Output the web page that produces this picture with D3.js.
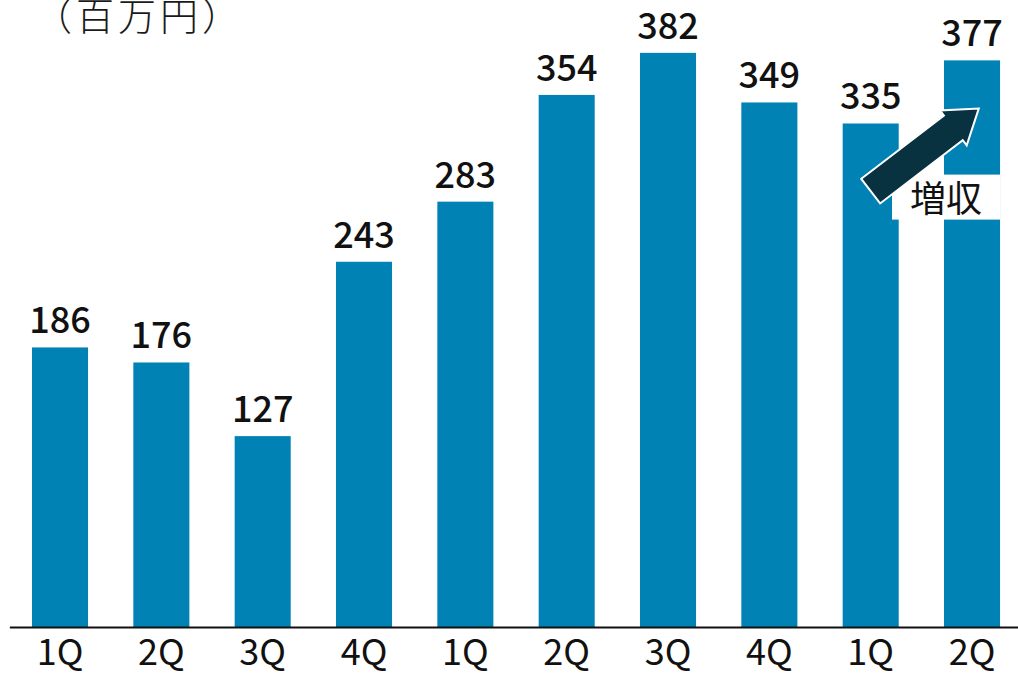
<!DOCTYPE html>
<html>
<head>
<meta charset="utf-8">
<script src="https://cdn.jsdelivr.net/npm/d3@7"></script>
<style>
  html, body { margin: 0; padding: 0; background: #fff; }
  svg { display: block; }
</style>
</head>
<body>
<svg id="svg"></svg>
<script>
const quarters = ["1Q", "2Q", "3Q", "4Q", "1Q", "2Q", "3Q", "4Q", "1Q", "2Q"]
const sales = [186, 176, 127, 243, 283, 354, 382, 349, 335, 377]
const unitLabel = "（百万円）"
const noteLabel = "増収"

const width = 1018
const height = 678
const baseY = 627

const svg = d3.select("#svg").attr("width", width).attr("height", height)
const font = "'Noto Sans CJK JP', 'Noto Sans', sans-serif"

const x = d3.scaleBand()
  .domain(d3.range(quarters.length))
  .range([9.35, 1022.7])
  .paddingInner(0.447)
  .paddingOuter(0.2235)

const y = d3.scaleLinear().domain([0, 400]).range([baseY, baseY - 400 * 1.503])

// unit label (cut at the top, as in the source)
svg.append("text")
  .attr("x", 34)
  .attr("y", 30)
  .attr("font-family", font)
  .attr("font-size", 38)
  .attr("font-weight", 300)
  .attr("letter-spacing", "4px")
  .attr("fill", "#1a1a1a")
  .text(unitLabel)

// bars
svg.append("g")
  .selectAll("rect")
  .data(sales)
  .enter()
  .append("rect")
  .attr("x", (d, i) => x(i))
  .attr("y", d => y(d))
  .attr("width", x.bandwidth())
  .attr("height", d => baseY - y(d))
  .attr("fill", "#0082b4")

// value labels
svg.append("g")
  .selectAll("text")
  .data(sales)
  .enter()
  .append("text")
  .attr("x", (d, i) => x(i) + x.bandwidth() / 2)
  .attr("y", d => y(d) - 14)
  .attr("text-anchor", "middle")
  .attr("font-family", font)
  .attr("font-size", 36)
  .attr("font-weight", 500)
  .attr("fill", "#111")
  .text(d => d)

// x axis
const axis = svg.append("g")
  .attr("transform", `translate(0, ${baseY})`)
  .call(d3.axisBottom(x).tickSize(0).tickPadding(12).tickFormat(i => quarters[i]))

axis.select(".domain").attr("stroke", "#111").attr("stroke-width", 2)
axis.selectAll("text")
  .attr("font-family", font)
  .attr("font-size", 36)
  .attr("fill", "#111")

// annotation box + arrow
const last = quarters.length - 1
svg.append("rect")
  .attr("x", x(last) - 52)
  .attr("y", y(301))
  .attr("width", x.bandwidth() + 52)
  .attr("height", 45)
  .attr("fill", "#fff")

svg.append("text")
  .attr("x", x(last) - 34)
  .attr("y", y(276))
  .attr("font-family", font)
  .attr("font-size", 36)
  .attr("fill", "#111")
  .text(noteLabel)

const tail = [x(last - 1) + x.bandwidth() / 2, y(290)]
const tip = [x(last) + x.bandwidth() * 0.62, y(345)]
const len = Math.hypot(tip[0] - tail[0], tip[1] - tail[1])
const ang = Math.atan2(tip[1] - tail[1], tip[0] - tail[0]) * 180 / Math.PI
const sw = 15.5, hw = 22, hl = 32
const arrowPts = [[0, -sw], [len - hl, -sw], [len - hl, -hw], [len, 0], [len - hl, hw], [len - hl, sw], [0, sw]]

svg.append("path")
  .attr("d", d3.line()(arrowPts) + "Z")
  .attr("transform", `translate(${tail[0]}, ${tail[1]}) rotate(${ang})`)
  .attr("fill", "#083240")
  .attr("stroke", "#fff")
  .attr("stroke-width", 2)
  .attr("stroke-linejoin", "miter")
</script>
</body>
</html>
